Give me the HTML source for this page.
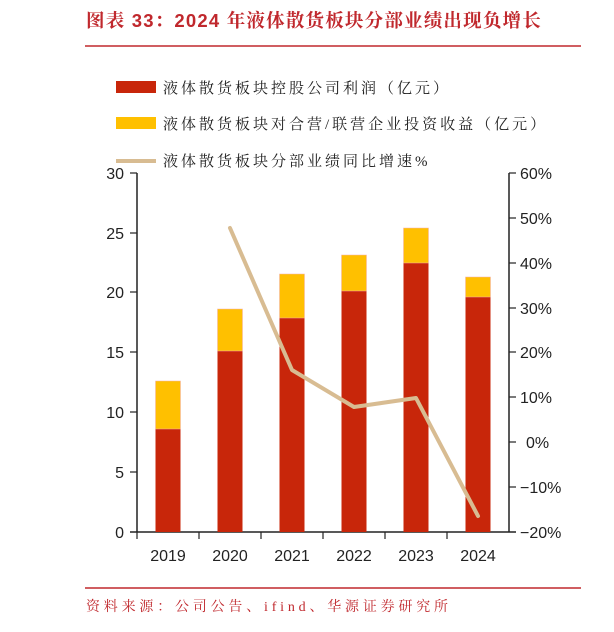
<!DOCTYPE html>
<html><head><meta charset="utf-8"><style>
body{margin:0;background:#fff;width:614px;height:627px;overflow:hidden;font-family:"Liberation Sans","Noto Sans CJK SC",sans-serif}
.s{font-family:"Liberation Serif","Noto Serif CJK SC",serif}
</style></head><body>
<svg width="614" height="627" xmlns="http://www.w3.org/2000/svg">
<text x="86" y="27" font-size="18.5" font-weight="bold" fill="#c0282d" letter-spacing="1.2" style="font-family:'Liberation Sans','Noto Serif CJK SC',serif">图表 33：2024 年液体散货板块分部业绩出现负增长</text>
<line x1="85" y1="46" x2="581" y2="46" stroke="#c0282d" stroke-width="1.5"/>
<rect x="116" y="81" width="40" height="12" fill="#c8260a"/>
<text class="s" x="163" y="93" font-size="15" fill="#222" letter-spacing="3">液体散货板块控股公司利润（亿元）</text>
<rect x="116" y="117" width="40" height="12" fill="#ffc000"/>
<text class="s" x="163" y="129" font-size="15" fill="#222" letter-spacing="3">液体散货板块对合营/联营企业投资收益（亿元）</text>
<line x1="116" y1="161" x2="156" y2="161" stroke="#d8bc92" stroke-width="4"/>
<text class="s" x="163" y="166" font-size="15" fill="#222" letter-spacing="3">液体散货板块分部业绩同比增速%</text>
<g stroke="#222" stroke-width="1.5">
<line x1="137" y1="173" x2="137" y2="532"/>
<line x1="130" y1="532" x2="516" y2="532"/>
<line x1="509" y1="173" x2="509" y2="532"/>
</g>
<g stroke="#222" stroke-width="1.2">
<line x1="130" y1="173" x2="137" y2="173"/><line x1="130" y1="233" x2="137" y2="233"/><line x1="130" y1="292" x2="137" y2="292"/><line x1="130" y1="352" x2="137" y2="352"/><line x1="130" y1="412" x2="137" y2="412"/><line x1="130" y1="472" x2="137" y2="472"/>
<line x1="509" y1="173" x2="516" y2="173"/><line x1="509" y1="218" x2="516" y2="218"/><line x1="509" y1="263" x2="516" y2="263"/><line x1="509" y1="308" x2="516" y2="308"/><line x1="509" y1="352" x2="516" y2="352"/><line x1="509" y1="397" x2="516" y2="397"/><line x1="509" y1="442" x2="516" y2="442"/><line x1="509" y1="487" x2="516" y2="487"/>
<line x1="199" y1="532" x2="199" y2="539"/><line x1="261" y1="532" x2="261" y2="539"/><line x1="323" y1="532" x2="323" y2="539"/><line x1="385" y1="532" x2="385" y2="539"/><line x1="447" y1="532" x2="447" y2="539"/><line x1="137" y1="532" x2="137" y2="539"/>
</g>
<g font-size="16" fill="#222" text-anchor="end">
<text x="124" y="179">30</text><text x="124" y="239">25</text><text x="124" y="298">20</text><text x="124" y="358">15</text><text x="124" y="418">10</text><text x="124" y="478">5</text><text x="124" y="538">0</text>
</g>
<g font-size="16" fill="#222">
<text x="520" y="179">60%</text><text x="520" y="224">50%</text><text x="520" y="269">40%</text><text x="520" y="314">30%</text><text x="520" y="358">20%</text><text x="520" y="403">10%</text><text x="526" y="448">0%</text><text x="520" y="493">−10%</text><text x="520" y="538">−20%</text>
</g>
<g font-size="16" fill="#222" text-anchor="middle">
<text x="168" y="561">2019</text><text x="230" y="561">2020</text><text x="292" y="561">2021</text><text x="354" y="561">2022</text><text x="416" y="561">2023</text><text x="478" y="561">2024</text>
</g>
<g fill="#c8260a">
<rect x="155.5" y="429" width="25" height="103"/><rect x="217.5" y="351" width="25" height="181"/><rect x="279.5" y="318" width="25" height="214"/><rect x="341.5" y="291" width="25" height="241"/><rect x="403.5" y="263" width="25" height="269"/><rect x="465.5" y="297" width="25" height="235"/>
</g>
<g fill="#ffc000" stroke="#f4b0b0" stroke-width="0.5">
<rect x="155.5" y="381" width="25" height="48"/><rect x="217.5" y="309" width="25" height="42"/><rect x="279.5" y="274" width="25" height="44"/><rect x="341.5" y="255" width="25" height="36"/><rect x="403.5" y="228" width="25" height="35"/><rect x="465.5" y="277" width="25" height="20"/>
</g>
<polyline points="230,228 292,370 354,407 416,398 478,516" fill="none" stroke="#d8bc92" stroke-width="4" stroke-linejoin="round" stroke-linecap="round"/>
<line x1="85" y1="588" x2="581" y2="588" stroke="#c0282d" stroke-width="1.5"/>
<text class="s" x="86" y="611" font-size="14" fill="#c0282d" letter-spacing="3.8">资料来源：公司公告、ifind、华源证券研究所</text>
</svg>
</body></html>
